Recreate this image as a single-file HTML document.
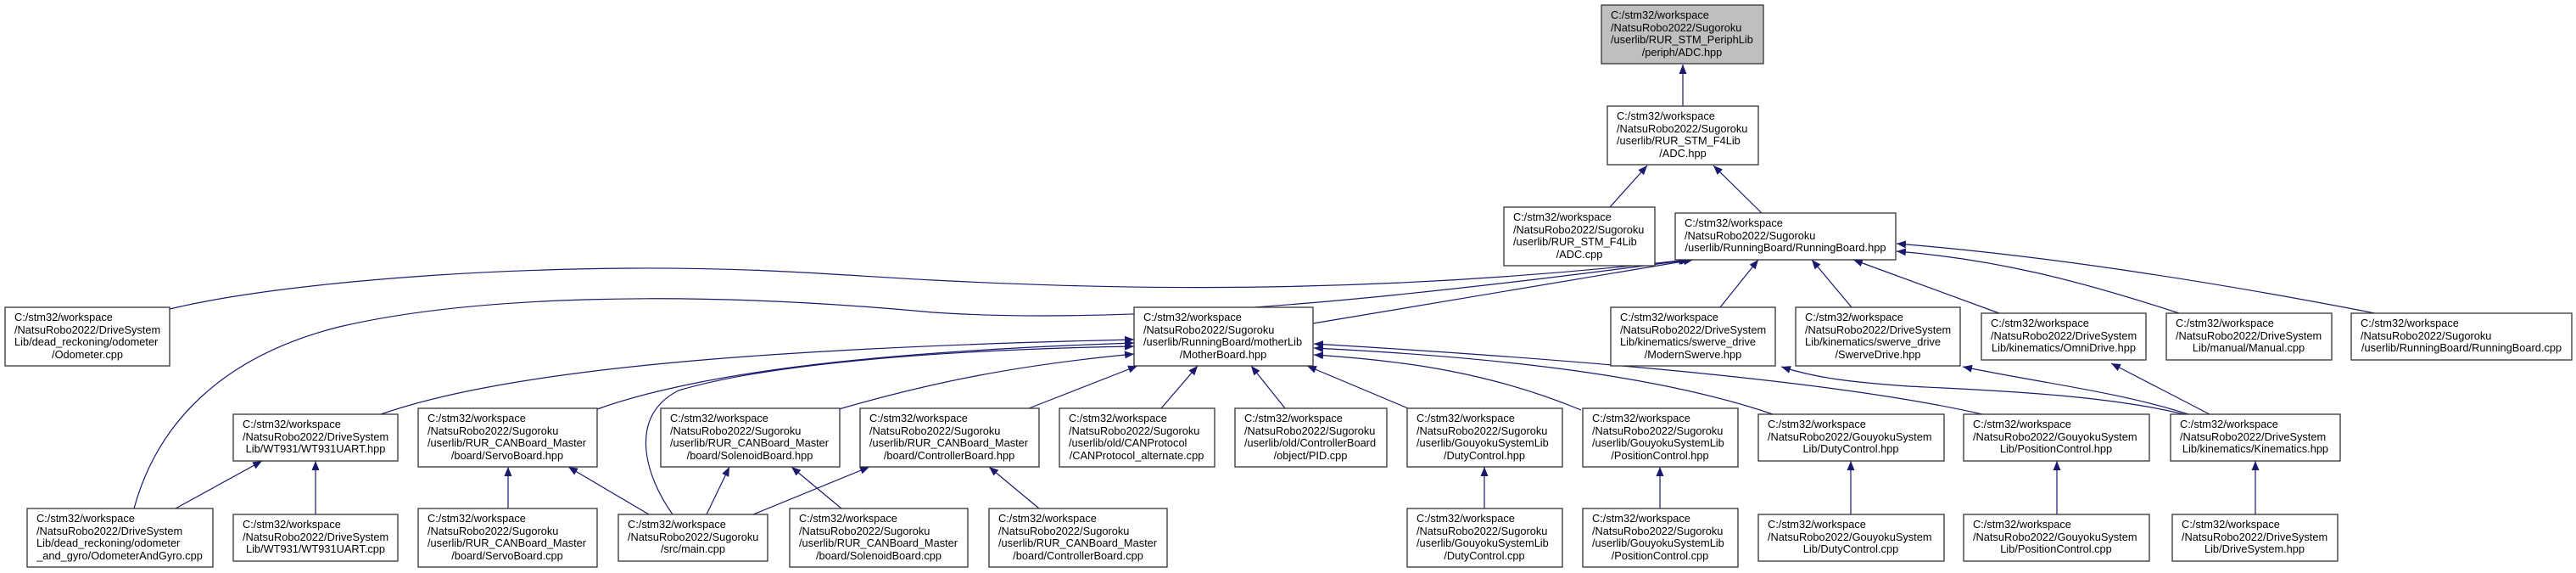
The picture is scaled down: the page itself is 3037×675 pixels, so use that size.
<!DOCTYPE html>
<html><head><meta charset="utf-8"><style>
html,body{margin:0;padding:0;background:#fff;}
svg{display:block;}
text{font-family:"Liberation Sans",Arial,sans-serif;font-size:12.8px;fill:#000;}
.b{fill:#fff;stroke:#333;stroke-width:1.3;}
.g{fill:#bfbfbf;stroke:#333;stroke-width:1.3;}
.e{fill:none;stroke:#191970;stroke-width:1.2;marker-end:url(#a);}
.c{text-anchor:middle;}
</style></head><body>
<svg width="3037" height="675" viewBox="0 0 3037 675" xmlns="http://www.w3.org/2000/svg">
<defs><marker id="a" markerUnits="userSpaceOnUse" markerWidth="12" markerHeight="9" refX="11" refY="4.5" orient="auto"><path d="M0,0 L11,4.5 L0,9 z" fill="#191970"/></marker></defs>

<!-- edges -->
<path class="e" d="M1984,125 L1984,76"/>
<path class="e" d="M1898,244 L1942,195"/>
<path class="e" d="M2077,251 L2020,195"/>
<path class="e" d="M200,364 C300,340 500,318 744,316 C900,315 1000,325 1100,330 C1300,340 1600,350 1990,306"/>
<path class="e" d="M158,599 C185,500 260,420 400,385 C550,350 800,340 1100,368 C1350,385 1700,345 1992,306"/>
<path class="e" d="M1548,381 L1996,306"/>
<path class="e" d="M2028,362 L2073,306"/>
<path class="e" d="M2183,362 L2136,306"/>
<path class="e" d="M2357,369 L2185,306"/>
<path class="e" d="M2569,369 C2450,330 2350,305 2236,296"/>
<path class="e" d="M2800,369 C2600,330 2400,300 2236,287"/>
<path class="e" d="M2575,488 C2480,465 2350,460 2250,455 C2180,450 2140,445 2100,432"/>
<path class="e" d="M2580,488 C2500,462 2400,450 2314,432"/>
<path class="e" d="M2605,488 L2489,428"/>
<path class="e" d="M2659,606 L2659,543"/>
<path class="e" d="M2182,606 L2182,543"/>
<path class="e" d="M2425,606 L2425,543"/>
<path class="e" d="M1750,599 L1750,550"/>
<path class="e" d="M1957,599 L1957,550"/>
<path class="e" d="M1213,481 L1341,431"/>
<path class="e" d="M1369,481 L1412,431"/>
<path class="e" d="M1515,481 L1475,431"/>
<path class="e" d="M1660,481 L1541,431"/>
<path class="e" d="M1864,483 C1760,440 1660,425 1549,418"/>
<path class="e" d="M2090,488 C1950,440 1750,420 1549,410"/>
<path class="e" d="M2337,488 C2150,445 1800,420 1549,405"/>
<path class="e" d="M449,488 C600,435 900,410 1337,400"/>
<path class="e" d="M704,482 C850,430 1100,412 1337,404"/>
<path class="e" d="M793,606 C760,560 740,490 800,460 C900,430 1100,412 1337,408"/>
<path class="e" d="M989,482 C1100,450 1200,430 1337,417"/>
<path class="e" d="M599,599 L599,550"/>
<path class="e" d="M765,606 L670,550"/>
<path class="e" d="M833,606 L860,550"/>
<path class="e" d="M888,606 L1025,550"/>
<path class="e" d="M992,599 L933,550"/>
<path class="e" d="M1225,599 L1166,550"/>
<path class="e" d="M207,599 L309,543"/>
<path class="e" d="M372,606 L372,543"/>

<!-- nodes -->
<rect class="g" x="1888" y="6" width="191" height="69"/>
<text x="1899" y="22">C:/stm32/workspace</text><text x="1899" y="37">/NatsuRobo2022/Sugoroku</text><text x="1899" y="51">/userlib/RUR_STM_PeriphLib</text><text class="c" x="1983" y="66">/periph/ADC.hpp</text>

<rect class="b" x="1895" y="125" width="178" height="69"/>
<text x="1906" y="141">C:/stm32/workspace</text><text x="1906" y="156">/NatsuRobo2022/Sugoroku</text><text x="1906" y="170">/userlib/RUR_STM_F4Lib</text><text class="c" x="1984" y="185">/ADC.hpp</text>

<rect class="b" x="1773" y="244" width="178" height="69"/>
<text x="1784" y="260">C:/stm32/workspace</text><text x="1784" y="275">/NatsuRobo2022/Sugoroku</text><text x="1784" y="289">/userlib/RUR_STM_F4Lib</text><text class="c" x="1862" y="304">/ADC.cpp</text>

<rect class="b" x="1975" y="251" width="260" height="55"/>
<text x="1986" y="267">C:/stm32/workspace</text><text x="1986" y="282">/NatsuRobo2022/Sugoroku</text><text class="c" x="2105" y="296">/userlib/RunningBoard/RunningBoard.hpp</text>

<rect class="b" x="6" y="362" width="194" height="69"/>
<text x="17" y="378">C:/stm32/workspace</text><text x="17" y="393">/NatsuRobo2022/DriveSystem</text><text x="17" y="407">Lib/dead_reckoning/odometer</text><text class="c" x="103" y="422">/Odometer.cpp</text>

<rect class="b" x="1337" y="362" width="211" height="69"/>
<text x="1348" y="378">C:/stm32/workspace</text><text x="1348" y="393">/NatsuRobo2022/Sugoroku</text><text x="1348" y="407">/userlib/RunningBoard/motherLib</text><text class="c" x="1442" y="422">/MotherBoard.hpp</text>

<rect class="b" x="1899" y="362" width="194" height="69"/>
<text x="1910" y="378">C:/stm32/workspace</text><text x="1910" y="393">/NatsuRobo2022/DriveSystem</text><text x="1910" y="407">Lib/kinematics/swerve_drive</text><text class="c" x="1996" y="422">/ModernSwerve.hpp</text>

<rect class="b" x="2117" y="362" width="194" height="69"/>
<text x="2128" y="378">C:/stm32/workspace</text><text x="2128" y="393">/NatsuRobo2022/DriveSystem</text><text x="2128" y="407">Lib/kinematics/swerve_drive</text><text class="c" x="2214" y="422">/SwerveDrive.hpp</text>

<rect class="b" x="2336" y="369" width="194" height="55"/>
<text x="2347" y="385">C:/stm32/workspace</text><text x="2347" y="400">/NatsuRobo2022/DriveSystem</text><text class="c" x="2433" y="414">Lib/kinematics/OmniDrive.hpp</text>

<rect class="b" x="2554" y="369" width="195" height="55"/>
<text x="2565" y="385">C:/stm32/workspace</text><text x="2565" y="400">/NatsuRobo2022/DriveSystem</text><text class="c" x="2651" y="414">Lib/manual/Manual.cpp</text>

<rect class="b" x="2772" y="369" width="260" height="55"/>
<text x="2783" y="385">C:/stm32/workspace</text><text x="2783" y="400">/NatsuRobo2022/Sugoroku</text><text class="c" x="2902" y="414">/userlib/RunningBoard/RunningBoard.cpp</text>

<rect class="b" x="275" y="488" width="194" height="55"/>
<text x="286" y="504">C:/stm32/workspace</text><text x="286" y="519">/NatsuRobo2022/DriveSystem</text><text class="c" x="372" y="533">Lib/WT931/WT931UART.hpp</text>

<rect class="b" x="493" y="481" width="211" height="69"/>
<text x="504" y="497">C:/stm32/workspace</text><text x="504" y="512">/NatsuRobo2022/Sugoroku</text><text x="504" y="526">/userlib/RUR_CANBoard_Master</text><text class="c" x="598" y="541">/board/ServoBoard.hpp</text>

<rect class="b" x="779" y="481" width="211" height="69"/>
<text x="790" y="497">C:/stm32/workspace</text><text x="790" y="512">/NatsuRobo2022/Sugoroku</text><text x="790" y="526">/userlib/RUR_CANBoard_Master</text><text class="c" x="884" y="541">/board/SolenoidBoard.hpp</text>

<rect class="b" x="1014" y="481" width="211" height="69"/>
<text x="1025" y="497">C:/stm32/workspace</text><text x="1025" y="512">/NatsuRobo2022/Sugoroku</text><text x="1025" y="526">/userlib/RUR_CANBoard_Master</text><text class="c" x="1119" y="541">/board/ControllerBoard.hpp</text>

<rect class="b" x="1249" y="481" width="183" height="69"/>
<text x="1260" y="497">C:/stm32/workspace</text><text x="1260" y="512">/NatsuRobo2022/Sugoroku</text><text x="1260" y="526">/userlib/old/CANProtocol</text><text class="c" x="1340" y="541">/CANProtocol_alternate.cpp</text>

<rect class="b" x="1456" y="481" width="179" height="69"/>
<text x="1467" y="497">C:/stm32/workspace</text><text x="1467" y="512">/NatsuRobo2022/Sugoroku</text><text x="1467" y="526">/userlib/old/ControllerBoard</text><text class="c" x="1545" y="541">/object/PID.cpp</text>

<rect class="b" x="1659" y="481" width="183" height="69"/>
<text x="1670" y="497">C:/stm32/workspace</text><text x="1670" y="512">/NatsuRobo2022/Sugoroku</text><text x="1670" y="526">/userlib/GouyokuSystemLib</text><text class="c" x="1750" y="541">/DutyControl.hpp</text>

<rect class="b" x="1866" y="481" width="183" height="69"/>
<text x="1877" y="497">C:/stm32/workspace</text><text x="1877" y="512">/NatsuRobo2022/Sugoroku</text><text x="1877" y="526">/userlib/GouyokuSystemLib</text><text class="c" x="1957" y="541">/PositionControl.hpp</text>

<rect class="b" x="2073" y="488" width="219" height="55"/>
<text x="2084" y="504">C:/stm32/workspace</text><text x="2084" y="519">/NatsuRobo2022/GouyokuSystem</text><text class="c" x="2182" y="533">Lib/DutyControl.hpp</text>

<rect class="b" x="2315" y="488" width="219" height="55"/>
<text x="2326" y="504">C:/stm32/workspace</text><text x="2326" y="519">/NatsuRobo2022/GouyokuSystem</text><text class="c" x="2424" y="533">Lib/PositionControl.hpp</text>

<rect class="b" x="2559" y="488" width="200" height="55"/>
<text x="2570" y="504">C:/stm32/workspace</text><text x="2570" y="519">/NatsuRobo2022/DriveSystem</text><text class="c" x="2659" y="533">Lib/kinematics/Kinematics.hpp</text>

<rect class="b" x="32" y="599" width="219" height="69"/>
<text x="43" y="615">C:/stm32/workspace</text><text x="43" y="630">/NatsuRobo2022/DriveSystem</text><text x="43" y="644">Lib/dead_reckoning/odometer</text><text class="c" x="141" y="659">_and_gyro/OdometerAndGyro.cpp</text>

<rect class="b" x="275" y="606" width="194" height="55"/>
<text x="286" y="622">C:/stm32/workspace</text><text x="286" y="637">/NatsuRobo2022/DriveSystem</text><text class="c" x="372" y="651">Lib/WT931/WT931UART.cpp</text>

<rect class="b" x="493" y="599" width="211" height="69"/>
<text x="504" y="615">C:/stm32/workspace</text><text x="504" y="630">/NatsuRobo2022/Sugoroku</text><text x="504" y="644">/userlib/RUR_CANBoard_Master</text><text class="c" x="598" y="659">/board/ServoBoard.cpp</text>

<rect class="b" x="729" y="606" width="176" height="55"/>
<text x="740" y="622">C:/stm32/workspace</text><text x="740" y="637">/NatsuRobo2022/Sugoroku</text><text class="c" x="817" y="651">/src/main.cpp</text>

<rect class="b" x="931" y="599" width="210" height="69"/>
<text x="942" y="615">C:/stm32/workspace</text><text x="942" y="630">/NatsuRobo2022/Sugoroku</text><text x="942" y="644">/userlib/RUR_CANBoard_Master</text><text class="c" x="1036" y="659">/board/SolenoidBoard.cpp</text>

<rect class="b" x="1166" y="599" width="210" height="69"/>
<text x="1177" y="615">C:/stm32/workspace</text><text x="1177" y="630">/NatsuRobo2022/Sugoroku</text><text x="1177" y="644">/userlib/RUR_CANBoard_Master</text><text class="c" x="1271" y="659">/board/ControllerBoard.cpp</text>

<rect class="b" x="1659" y="599" width="183" height="69"/>
<text x="1670" y="615">C:/stm32/workspace</text><text x="1670" y="630">/NatsuRobo2022/Sugoroku</text><text x="1670" y="644">/userlib/GouyokuSystemLib</text><text class="c" x="1750" y="659">/DutyControl.cpp</text>

<rect class="b" x="1866" y="599" width="183" height="69"/>
<text x="1877" y="615">C:/stm32/workspace</text><text x="1877" y="630">/NatsuRobo2022/Sugoroku</text><text x="1877" y="644">/userlib/GouyokuSystemLib</text><text class="c" x="1957" y="659">/PositionControl.cpp</text>

<rect class="b" x="2073" y="606" width="219" height="55"/>
<text x="2084" y="622">C:/stm32/workspace</text><text x="2084" y="637">/NatsuRobo2022/GouyokuSystem</text><text class="c" x="2182" y="651">Lib/DutyControl.cpp</text>

<rect class="b" x="2315" y="606" width="219" height="55"/>
<text x="2326" y="622">C:/stm32/workspace</text><text x="2326" y="637">/NatsuRobo2022/GouyokuSystem</text><text class="c" x="2424" y="651">Lib/PositionControl.cpp</text>

<rect class="b" x="2561" y="606" width="195" height="55"/>
<text x="2572" y="622">C:/stm32/workspace</text><text x="2572" y="637">/NatsuRobo2022/DriveSystem</text><text class="c" x="2658" y="651">Lib/DriveSystem.hpp</text>
</svg>
</body></html>
